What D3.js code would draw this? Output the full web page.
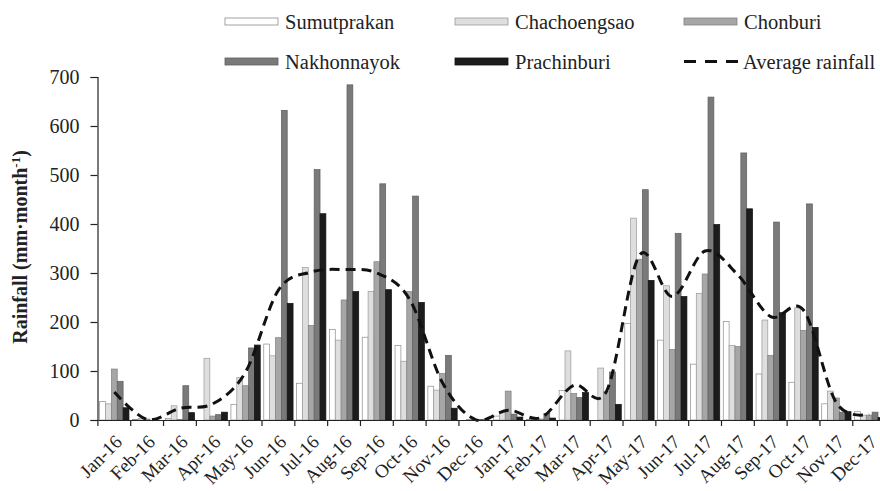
<!DOCTYPE html>
<html>
<head>
<meta charset="utf-8">
<script src="https://cdn.jsdelivr.net/npm/d3@7"></script>
<style>
  body { margin: 0; background: #fff; }
  text { font-family: "Liberation Serif", "Times New Roman", serif; fill: #222; }
</style>
</head>
<body>
<div id="chart"></div>
<script>
// monthly rainfall, mm/month
const months = ["Jan-16", "Feb-16", "Mar-16", "Apr-16", "May-16", "Jun-16", "Jul-16", "Aug-16",
  "Sep-16", "Oct-16", "Nov-16", "Dec-16", "Jan-17", "Feb-17", "Mar-17", "Apr-17", "May-17",
  "Jun-17", "Jul-17", "Aug-17", "Sep-17", "Oct-17", "Nov-17", "Dec-17"];

const sumutprakan  = [38, 1, 3, 0, 32, 155, 75, 185, 169, 152, 69, 0, 8, 1, 60, 0, 197, 163, 114, 201, 94, 77, 33, 17];
const chachoengsao = [33, 3, 29, 126, 87, 131, 311, 163, 262, 120, 61, 1, 16, 4, 141, 106, 412, 274, 258, 152, 204, 229, 59, 10];
const chonburi     = [104, 2, 1, 8, 70, 168, 193, 245, 323, 262, 95, 0, 59, 2, 54, 58, 328, 144, 298, 150, 132, 183, 45, 10];
const nakhonnayok  = [79, 0, 70, 11, 147, 632, 511, 684, 482, 457, 132, 1, 12, 13, 46, 98, 470, 381, 659, 545, 404, 441, 16, 16];
const prachinburi  = [25, 0, 15, 16, 153, 238, 421, 262, 266, 240, 24, 0, 6, 4, 56, 32, 285, 252, 399, 431, 219, 189, 17, 5];
const averageRainfall = [57, 1, 24, 33, 98, 265, 302, 307, 300, 246, 76, 1, 20, 5, 71, 59, 336, 252, 345, 296, 211, 224, 35, 12];

const seriesNames = ["Sumutprakan", "Chachoengsao", "Chonburi", "Nakhonnayok", "Prachinburi"];
const seriesValues = [sumutprakan, chachoengsao, chonburi, nakhonnayok, prachinburi];
const yTicks = [0, 100, 200, 300, 400, 500, 600, 700];

const fills = ["#ffffff", "#dedede", "#a6a6a6", "#7a7a7a", "#1c1c1c"];
const strokes = ["#8c8c8c", "#9a9a9a", "#808080", "#5e5e5e", "#111111"];

const width = 880, height = 491;
const svg = d3.select("#chart").append("svg")
  .attr("width", width)
  .attr("height", height);

const x = d3.scaleBand().domain(months).range([97.9, 885.6]).padding(0);
const x1 = d3.scaleBand().domain(seriesNames).range([0, x.bandwidth()]).paddingOuter(0.3);
const y = d3.scaleLinear().domain([0, 700]).range([420, 77]);

// bars
const rows = months.map((m, i) => ({ month: m, values: seriesNames.map((s, k) => ({ key: s, k: k, v: seriesValues[k][i] })) }));

svg.append("g").selectAll("g")
  .data(rows)
  .enter().append("g")
  .attr("transform", d => "translate(" + x(d.month) + ",0)")
  .selectAll("rect")
  .data(d => d.values)
  .enter().append("rect")
  .attr("x", d => x1(d.key))
  .attr("y", d => y(d.v))
  .attr("width", x1.bandwidth())
  .attr("height", d => y(0) - y(d.v))
  .style("fill", d => fills[d.k])
  .style("stroke", d => strokes[d.k])
  .style("stroke-width", 0.7);

// average line
const line = d3.line()
  .x((d, i) => x(months[i]) + x.bandwidth() / 2)
  .y(d => y(d))
  .curve(d3.curveCardinal);

svg.append("path")
  .datum(averageRainfall)
  .attr("d", line)
  .style("fill", "none")
  .style("stroke", "#111")
  .style("stroke-width", 3)
  .style("stroke-dasharray", "10,6");

// y axis
const yAxis = svg.append("g")
  .attr("transform", "translate(97.5,0)")
  .call(d3.axisLeft(y).tickValues(yTicks).tickSize(7).tickPadding(11));
yAxis.selectAll("text").style("font-size", "20px").style("fill", "#222");
yAxis.selectAll("line, path").style("stroke", "#222").style("stroke-width", 1.2);

// x axis, ticks sit on the band edges
const xAxis = svg.append("g")
  .attr("transform", "translate(0,420)")
  .call(d3.axisBottom(x).tickSize(0).tickFormat(""));
xAxis.select("path").style("stroke", "#222").style("stroke-width", 1.2);

svg.append("g").selectAll("line")
  .data(months)
  .enter().append("line")
  .attr("x1", d => x(d))
  .attr("x2", d => x(d))
  .attr("y1", 420)
  .attr("y2", 426)
  .style("stroke", "#222")
  .style("stroke-width", 1.2);

svg.append("g").selectAll("text")
  .data(months)
  .enter().append("text")
  .attr("transform", d => "translate(" + (x(d) + x.bandwidth() / 2 + 9) + ",443) rotate(-45)")
  .attr("text-anchor", "end")
  .style("font-size", "19px")
  .text(d => d);

// y title
const title = svg.append("text")
  .attr("transform", "translate(27,247) rotate(-90)")
  .attr("text-anchor", "middle")
  .style("font-size", "20px")
  .style("font-weight", "bold");
title.append("tspan").text("Rainfall (mm·month");
title.append("tspan").attr("dy", -7).style("font-size", "13px").text("-1");
title.append("tspan").attr("dy", 7).text(")");

// legend
const legendItems = [
  { name: "Sumutprakan", x: 225, y: 21.5, k: 0 },
  { name: "Chachoengsao", x: 455, y: 21.5, k: 1 },
  { name: "Chonburi", x: 684, y: 21.5, k: 2 },
  { name: "Nakhonnayok", x: 225, y: 61.5, k: 3 },
  { name: "Prachinburi", x: 455, y: 61.5, k: 4 },
  { name: "Average rainfall", x: 684, y: 61.5, k: -1 }
];

const legend = svg.append("g").selectAll("g")
  .data(legendItems)
  .enter().append("g")
  .attr("transform", d => "translate(" + d.x + "," + d.y + ")");

legend.filter(d => d.k >= 0).append("rect")
  .attr("x", 0).attr("y", -3.5)
  .attr("width", 53).attr("height", 7)
  .style("fill", d => fills[d.k])
  .style("stroke", d => strokes[d.k])
  .style("stroke-width", 0.8);

legend.filter(d => d.k < 0).append("line")
  .attr("x1", 0).attr("x2", 54)
  .attr("y1", 0).attr("y2", 0)
  .style("stroke", "#111")
  .style("stroke-width", 3)
  .style("stroke-dasharray", "12,9");

legend.append("text")
  .attr("x", d => d.k < 0 ? 59 : 60)
  .attr("y", 7)
  .style("font-size", "20.5px")
  .text(d => d.name);
</script>
</body>
</html>
